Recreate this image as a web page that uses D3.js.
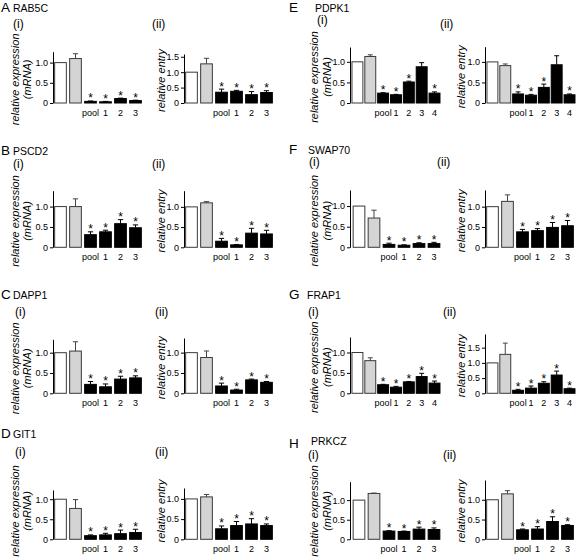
<!DOCTYPE html>
<html><head><meta charset="utf-8">
<script src="https://cdn.jsdelivr.net/npm/d3@7"></script>
<style>body{margin:0;background:#fff}svg{display:block}text{font-family:"Liberation Sans",Arial,sans-serif}</style>
</head><body><svg id="c" width="576" height="560"></svg>
<script>
// ---------- data ----------
const letters = ["A","B","C","D","E","F","G","H"];
const genes = ["RAB5C","PSCD2","DAPP1","GIT1","PDPK1","SWAP70","FRAP1","PRKCZ"];
const siRNA3 = ["pool","1","2","3"];
const siRNA4 = ["pool","1","2","3","4"];
const subTitles = ["(i)","(ii)"];
const yTitleExpr = ["relative expression","(mRNA)"];
const yTitleEntry = "relative entry";
// bars: [control (white), control (grey), pool, 1, 2, 3, (4)]
const exprMeans = [
 [1.0,1.10,0.04,0.03,0.11,0.06],
 [1.0,1.00,0.31,0.38,0.58,0.48],
 [1.0,1.04,0.22,0.16,0.35,0.38],
 [1.0,0.77,0.09,0.11,0.14,0.17],
 [1.0,1.13,0.24,0.20,0.51,0.88,0.24],
 [1.0,0.71,0.07,0.05,0.09,0.09],
 [1.0,0.80,0.21,0.15,0.28,0.41,0.25],
 [1.0,1.17,0.21,0.20,0.26,0.25]
];
const exprErrs = [
 [0,0.12,0.01,0.01,0.01,0.01],
 [0,0.19,0.07,0.04,0.10,0.07],
 [0,0.23,0.07,0.07,0.07,0.05],
 [0,0.22,0.02,0.04,0.09,0.08],
 [0,0.04,0.01,0.01,0.02,0.10,0.03],
 [0,0.19,0.03,0.01,0.02,0.03],
 [0,0.07,0.01,0.02,0.01,0.08,0.05],
 [0,0.01,0.01,0.01,0.05,0.04]
];
const entryMeans = [
 [1.0,1.27,0.35,0.38,0.27,0.34],
 [1.0,1.10,0.15,0.06,0.35,0.33],
 [1.0,0.88,0.18,0.08,0.33,0.27],
 [1.0,1.05,0.26,0.34,0.38,0.34],
 [1.0,0.91,0.22,0.19,0.38,0.93,0.20],
 [1.0,1.13,0.38,0.41,0.49,0.53],
 [1.0,1.28,0.10,0.17,0.33,0.60,0.15],
 [1.0,1.15,0.24,0.26,0.45,0.35]
];
const entryErrs = [
 [0,0.18,0.10,0.03,0.10,0.06],
 [0,0.03,0.07,0.01,0.12,0.09],
 [0,0.16,0.07,0.02,0.02,0.02],
 [0,0.06,0.07,0.10,0.13,0.04],
 [0,0.04,0.05,0.02,0.08,0.22,0.02],
 [0,0.16,0.06,0.05,0.12,0.13],
 [0,0.37,0.03,0.07,0.05,0.13,0.02],
 [0,0.08,0.02,0.06,0.12,0.02]
];
const exprStars = [
 [0,0,1,1,1,1],[0,0,1,1,1,1],[0,0,1,1,1,1],[0,0,1,1,1,1],
 [0,0,1,1,1,0,1],[0,0,1,1,1,1],[0,0,1,1,1,1,1],[0,0,1,1,1,1]
];
const entryStars = [
 [0,0,1,1,1,1],[0,0,1,1,1,1],[0,0,1,1,1,1],[0,0,1,1,1,1],
 [0,0,1,1,1,0,1],[0,0,1,1,1,1],[0,0,1,1,1,1,1],[0,0,1,1,1,1]
];
const exprYMax = [1.27,1.39,1.33,1.23,1.36,1.39,1.38,1.47];
const entryYMax = [1.59,1.40,1.36,1.27,1.37,1.41,1.95,1.50];
const ticksShort = [0,0.5,1.0];
const ticksLong = [0,0.5,1.0,1.5];

// ---------- layout ----------
const svg = d3.select("#c");
const rowZero = [103,247.3,393.3,539.3];
const axisX = [[53,184],[350,485]];
const axisTop = [[51.7,54],[190.7,190.7],[339.3,338],[490,488],[47,46.7],[190,190],[337,334],[481.7,480]];
// [letter baseline, (i) baseline, (ii) baseline, gene baseline]
const headY = [[12,28,28,12],[155,168,168,155],[299,316,316,299],[438,456,456,438],[12,24,28,12],[154,166,166,154],[299,316,316,299],[448,459,459,445]];
// [letter x, gene x, (i) x, (ii) x]
const headX = [[1,13,13,152],[1,13,13,152],[1,13,15,155],[1,13,15,155],[289,315,317,440],[289,308,309,437],[289,307,308,443],[289,311,308,443]];
const fmt = d => d === 0 ? "0" : d.toFixed(1);

function drawPanel(g, which) {
  const col = g < 4 ? 0 : 1, row = g % 4;
  const means = which === 0 ? exprMeans[g] : entryMeans[g];
  const errs = which === 0 ? exprErrs[g] : entryErrs[g];
  const stars = which === 0 ? exprStars[g] : entryStars[g];
  const yMax = which === 0 ? exprYMax[g] : entryYMax[g];
  const ticks = yMax > 1.5 ? ticksLong : ticksShort;
  const ax = axisX[col][which];
  const zero = rowZero[row];
  const top = axisTop[g][which];
  const n = means.length;
  const labels = n === 7 ? siRNA4 : siRNA3;
  const step = n === 7 ? 12.85 : 15;
  const off = col === 1 ? (n === 7 ? 1 : (which === 0 ? 1.5 : 0)) : 0;
  const x = d3.scaleBand().domain(d3.range(n)).range([ax + off, ax + off + n * step])
    .paddingInner(n === 7 ? 0.15 : 0.22).paddingOuter(n === 7 ? 0.075 : 0.11);
  const y = d3.scaleLinear().domain([0, yMax]).range([zero, top]);
  const G = svg.append("g");
  G.selectAll("rect.bar").data(means).join("rect")
    .attr("x", (d,i) => x(i)).attr("width", x.bandwidth())
    .attr("y", d => y(d)).attr("height", d => y(0) - y(d))
    .attr("fill", (d,i) => i === 0 ? "#fff" : i === 1 ? "#d4d4d4" : "#000")
    .attr("stroke", (d,i) => i < 2 ? "#3a3a3a" : "#000").attr("stroke-width", 1);
  const eb = means.map((d,i) => ({i, m:d, e:errs[i], s:stars[i]}));
  const cw = x.bandwidth() * 0.45;
  const cx = d => x(d.i) + x.bandwidth()/2;
  G.selectAll("line.ev").data(eb.filter(d => d.e > 0)).join("line")
    .attr("x1", cx).attr("x2", cx)
    .attr("y1", d => y(d.m)).attr("y2", d => y(d.m + d.e))
    .attr("stroke", d => d.i === 1 ? "#444" : "#000").attr("stroke-width", 1);
  G.selectAll("line.ec").data(eb.filter(d => d.e > 0)).join("line")
    .attr("x1", d => cx(d) - cw/2).attr("x2", d => cx(d) + cw/2)
    .attr("y1", d => y(d.m + d.e)).attr("y2", d => y(d.m + d.e))
    .attr("stroke", d => d.i === 1 ? "#444" : "#000").attr("stroke-width", 1);
  G.selectAll("text.st").data(eb.filter(d => d.s)).join("text")
    .attr("x", cx).attr("y", d => y(d.m + d.e) + 1.5)
    .attr("text-anchor", "middle").attr("font-size", 12).text("*");
  G.selectAll("text.xl").data(labels).join("text")
    .attr("x", (d,i) => x(i + 2) + x.bandwidth()/2).attr("y", zero + 13)
    .attr("text-anchor", "middle").attr("font-size", 9).text(d => d);
  const axis = G.append("g").attr("transform", `translate(${ax},0)`)
    .call(d3.axisLeft(y).tickValues(ticks).tickFormat(fmt).tickSize(3).tickSizeOuter(0).tickPadding(2));
  axis.select(".domain").attr("stroke", "#000");
  axis.selectAll("text").attr("font-size", 9).attr("font-family", '"Liberation Sans",Arial,sans-serif').attr("fill", "#000");
  const cy = Math.min((zero + top) / 2 + 2, 511);
  if (which === 0) {
    const bx = col === 0 ? [19, 31] : [318, 331];
    yTitleExpr.forEach((t, j) => {
      G.append("text").attr("transform", `translate(${bx[j]},${cy}) rotate(-90)`)
        .attr("text-anchor", "middle").attr("font-size", 11).attr("font-style", "italic").text(t);
    });
  } else {
    const bx = col === 0 ? 165 : 465;
    G.append("text").attr("transform", `translate(${bx},${cy}) rotate(-90)`)
      .attr("text-anchor", "middle").attr("font-size", 11).attr("font-style", "italic").text(yTitleEntry);
  }
}

genes.forEach((gene, g) => {
  const hy = headY[g], hx = headX[g];
  svg.append("text").attr("x", hx[0]).attr("y", hy[0]).attr("font-size", 13.5).text(letters[g]);
  svg.append("text").attr("x", hx[1]).attr("y", hy[3]).attr("font-size", 10.5).text(gene);
  svg.append("text").attr("x", hx[2]).attr("y", hy[1]).attr("font-size", 12).text(subTitles[0]);
  svg.append("text").attr("x", hx[3]).attr("y", hy[2]).attr("font-size", 12).text(subTitles[1]);
  drawPanel(g, 0);
  drawPanel(g, 1);
});
</script></body></html>
